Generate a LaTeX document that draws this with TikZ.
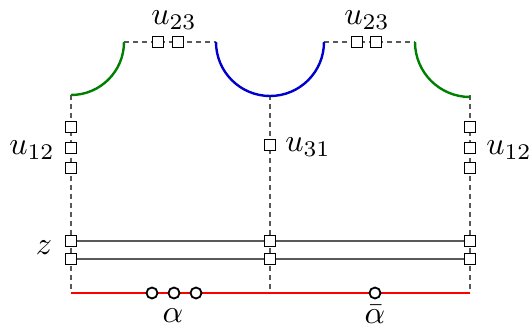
\documentclass[tikz,border=0pt]{standalone}
\usepackage{graphicx}
\newcommand{\lbltxt}[1]{\scalebox{3.2}{$#1$}}
\begin{document}
\begin{tikzpicture}[x=1pt,y=-1pt,
  sq/.style={draw=black,fill=white,line width=1.8pt,minimum size=11pt,inner sep=0pt,rectangle},
  ci/.style={draw=black,fill=white,line width=1.8pt,minimum size=11pt,inner sep=0pt,circle},
  dsh/.style={draw=black!65,line width=2.2pt,dash pattern=on 5pt off 4pt},
  zl/.style={draw=black!65,line width=2.4pt},
  arcg/.style={draw=green!50!black,line width=2.4pt},
  arcb/.style={draw=blue!80!black,line width=2.4pt},
  lbl/.style={inner sep=0pt}]
\useasboundingbox (0,0) rectangle (531,329);
% corner coordinates
\coordinate (L0) at (71,95);
\coordinate (LB) at (71,293);
\coordinate (M0) at (270,95);
\coordinate (MB) at (270,293);
\coordinate (R0) at (470,95);
\coordinate (RB) at (470,293);
\coordinate (T1a) at (124,42);
\coordinate (T1b) at (216,42);
\coordinate (T2a) at (324,42);
\coordinate (T2b) at (415,42);
% dashed lines
\draw[dsh] (T1a) -- (T1b);
\draw[dsh] (T2a) -- (T2b);
\draw[dsh] (L0) -- (LB);
\draw[dsh] (M0) -- (MB);
\draw[dsh] (R0) -- (RB);
% arcs
\draw[arcg] (L0) arc[start angle=90,end angle=0,radius=53];
\draw[arcb] (T1b) arc[start angle=180,end angle=0,radius=54];
\draw[arcg] (T2b) arc[start angle=180,end angle=90,radius=55];
% red line
\draw[red,line width=2.4pt] (LB) -- (RB);
% z lines
\node[sq] (za1) at (71,241) {};
\node[sq] (za2) at (270,241) {};
\node[sq] (za3) at (470,241) {};
\node[sq] (zb1) at (71,259) {};
\node[sq] (zb2) at (270,259) {};
\node[sq] (zb3) at (470,259) {};
\draw[zl] (za1) -- (za2) -- (za3);
\draw[zl] (zb1) -- (zb2) -- (zb3);
% squares
\node[sq] (a1) at (158,42) {};
\node[sq] (a2) at (178,42) {};
\node[sq] (b1) at (357,42) {};
\node[sq] (b2) at (376,42) {};
\node[sq] (l1) at (71,127) {};
\node[sq] (l2) at (71,148) {};
\node[sq] (l3) at (71,168) {};
\node[sq] (m1) at (270,145) {};
\node[sq] (r1) at (470,127) {};
\node[sq] (r2) at (470,148) {};
\node[sq] (r3) at (470,168) {};
% circles
\node[ci] (c1) at (152,293) {};
\node[ci] (c2) at (174,293) {};
\node[ci] (c3) at (196,293) {};
\node[ci] (c4) at (375,293) {};
% labels
\node[lbl] (tu1) at (174,20) {\lbltxt{u_{23}}};
\node[lbl] (tu2) at (367,20) {\lbltxt{u_{23}}};
\node[lbl] (tl) at (32,150) {\lbltxt{u_{12}}};
\node[lbl] (tm) at (308,147) {\lbltxt{u_{31}}};
\node[lbl] (tr) at (509,150) {\lbltxt{u_{12}}};
\node[lbl] (tz) at (44,248) {\lbltxt{z}};
\node[lbl] (ta) at (173,316) {\lbltxt{\alpha}};
\node[lbl] (tb) at (375,314) {\lbltxt{\bar\alpha}};
\end{tikzpicture}
\end{document}
